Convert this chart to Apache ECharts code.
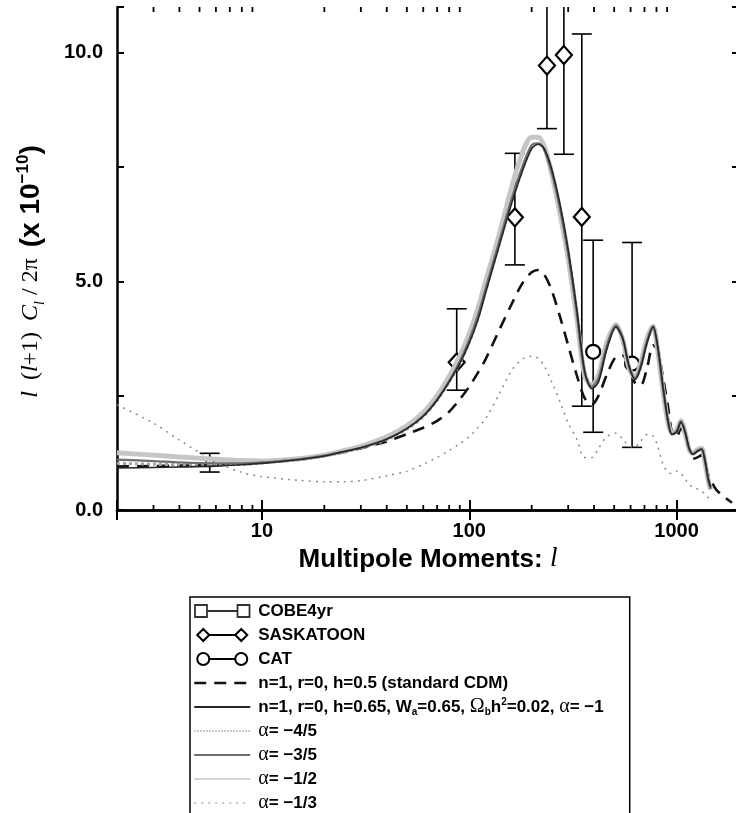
<!DOCTYPE html>
<html>
<head>
<meta charset="utf-8">
<script src="https://cdn.jsdelivr.net/npm/echarts@6/dist/echarts.min.js"></script>
<style>html,body{margin:0;padding:0;background:#fff}#main{width:736px;height:813px}</style>
</head>
<body>
<div id="main"></div>
<script>
// multipole grid used by the model curves
var ell = [2,3,4,6,8,10, 15,20,25,30, 40,50,60,70,80,90,100, 110,120,140,160,180,200,
    215,230,250,275,300, 330,360,390,420,460, 510,550,590,630,670, 720,770,810,860,910,
    950,1000,1050,1100,1150, 1200,1260,1320,1370,1420,1460];
// standard CDM runs a bit further to the right
var ellCdm = ell.concat([1550,1650,1750,1850]);

var cdm = [0.95,0.96,0.97,0.99,1.01,1.04, 1.1,1.18,1.27,1.35, 1.5,1.66,1.8,1.95,2.15,2.42,2.7,
    3.0,3.3,3.95,4.5,4.95,5.2, 5.25,5.15,4.8,4.2,3.6, 2.95,2.45,2.3,2.5,2.95,
    3.35,3.38,3.1,2.78,2.72, 3.1,3.6,3.5,2.9,2.25, 1.7,1.6,1.78,1.65,1.3,
    1.12,1.15,1.2,1.0,0.78,0.65, 0.45,0.33,0.24,0.16];
var alphaM1 = [0.92,0.93,0.94,0.96,0.99,1.02, 1.1,1.18,1.28,1.36, 1.55,1.78,2.05,2.4,2.8,3.2,3.65,
    4.15,4.75,5.8,6.7,7.4,7.9, 8.0,7.9,7.45,6.65,5.7, 4.4,3.05,2.65,2.8,3.5,
    4.0,3.75,3.15,2.85,3.1, 3.65,4.0,3.6,2.7,1.95, 1.65,1.7,1.92,1.7,1.35,
    1.22,1.28,1.33,1.1,0.7,0.5];
var alphaM45 = [1.02,1.0,0.99,0.99,1.0,1.03, 1.1,1.18,1.27,1.35, 1.54,1.77,2.04,2.4,2.8,3.2,3.67,
    4.2,4.8,5.85,6.75,7.45,7.95, 8.0,7.9,7.4,6.6,5.65, 4.35,3.05,2.68,2.85,3.55,
    4.02,3.75,3.15,2.88,3.12, 3.68,4.0,3.58,2.68,1.95, 1.67,1.72,1.93,1.7,1.35,
    1.23,1.3,1.33,1.08,0.68,0.48];
var alphaM35 = [1.1,1.07,1.04,1.02,1.02,1.04, 1.11,1.19,1.28,1.36, 1.55,1.78,2.06,2.42,2.82,3.25,3.72,
    4.25,4.85,5.9,6.8,7.5,7.98, 8.02,7.88,7.38,6.55,5.6, 4.3,3.0,2.7,2.88,3.58,
    4.03,3.75,3.12,2.88,3.15, 3.7,4.02,3.55,2.65,1.92, 1.66,1.72,1.94,1.7,1.33,
    1.22,1.3,1.34,1.06,0.66,0.46];
var alphaM12 = [1.25,1.2,1.16,1.11,1.08,1.07, 1.12,1.2,1.3,1.39, 1.6,1.84,2.13,2.5,2.92,3.36,3.85,
    4.4,5.0,6.05,7.05,7.8,8.15, 8.15,7.95,7.35,6.45,5.5, 4.2,2.95,2.72,2.95,3.65,
    4.05,3.72,3.1,2.9,3.2, 3.75,4.02,3.5,2.6,1.9, 1.68,1.75,1.95,1.68,1.32,
    1.24,1.32,1.35,1.05,0.65,0.45];
var alphaM13 = [2.3,1.9,1.53,1.05,0.82,0.73, 0.65,0.62,0.62,0.64, 0.75,0.85,1.0,1.15,1.3,1.45,1.6,
    1.8,2.0,2.55,3.05,3.3,3.36, 3.32,3.15,2.8,2.35,1.9, 1.55,1.15,1.15,1.35,1.6,
    1.68,1.55,1.4,1.38,1.5, 1.65,1.62,1.4,1.0,0.82, 0.8,0.85,0.8,0.68,0.55,
    0.5,0.46,0.42,0.34,0.27,0.22];

// data points: multipole, value, lower and upper end of the error bar
var cobeL = [5.6], cobeV = [1.04], cobeLo = [0.83], cobeHi = [1.24];
var sasL = [87,166,237,286,349], sasV = [3.23,6.4,9.72,9.95,6.41];
var sasLo = [2.62,5.36,8.34,7.78,2.27], sasHi = [4.4,7.8,12.5,13,10.41];
var catL = [396,610], catV = [3.46,3.2], catLo = [1.7,1.37], catHi = [5.9,5.85];

var xTickLabels = [10,100,1000];
var yTickLabels = [0,5,10];
var minorTicks = [3,4,5,6,7,8,9,20,30,40,50,60,70,80,90,200,300,400,500,600,700,800,900];

var names = {
    cdm: 'n=1, r=0, h=0.5 (standard CDM)',
    a1: 'n=1, r=0, h=0.65, Wa=0.65, Obh2=0.02, alpha=-1',
    a45: 'alpha=-4/5',
    a35: 'alpha=-3/5',
    a12: 'alpha=-1/2',
    a13: 'alpha=-1/3'
};
var labels = {};
labels['COBE4yr'] = 'COBE4yr';
labels['SASKATOON'] = 'SASKATOON';
labels['CAT'] = 'CAT';
labels[names.cdm] = names.cdm;
labels[names.a1] = 'n=1, r=0, h=0.65, W{sub|a}=0.65, {g|Ω}{sub|b}h{sup|2}=0.02, {g|α}= \u22121';
labels[names.a45] = '{g|α}= \u22124/5';
labels[names.a35] = '{g|α}= \u22123/5';
labels[names.a12] = '{g|α}= \u22121/2';
labels[names.a13] = '{g|α}= \u22121/3';

function pairs(xs, ys) {
    return xs.map(function (x, i) { return [x, ys[i]]; });
}
function bars(xs, lo, hi) {
    return xs.map(function (x, i) { return [x, lo[i], hi[i]]; });
}

function renderErr(params, api) {
    var top = api.coord([api.value(0), api.value(2)]);
    var bot = api.coord([api.value(0), api.value(1)]);
    var w = 10;
    var st = {stroke: '#000', lineWidth: 1.6};
    return {
        type: 'group',
        children: [
            {type: 'line', shape: {x1: top[0], y1: top[1], x2: bot[0], y2: bot[1]}, style: st},
            {type: 'line', shape: {x1: top[0] - w, y1: top[1], x2: top[0] + w, y2: top[1]}, style: st},
            {type: 'line', shape: {x1: bot[0] - w, y1: bot[1], x2: bot[0] + w, y2: bot[1]}, style: st}
        ]
    };
}

function renderMinor(params, api) {
    var b = api.coord([api.value(0), 0]);
    var t = api.coord([api.value(0), 11]);
    var st = {stroke: '#000', lineWidth: 1.8};
    return {
        type: 'group',
        children: [
            {type: 'line', shape: {x1: b[0], y1: b[1], x2: b[0], y2: b[1] - 5}, style: st},
            {type: 'line', shape: {x1: t[0], y1: t[1], x2: t[0], y2: t[1] + 5}, style: st}
        ]
    };
}

var myChart = echarts.init(document.getElementById('main'));

var sans = '"Liberation Sans", Arial, sans-serif';
var serif = '"Liberation Serif", "Times New Roman", serif';
var axisLine = {show: true, lineStyle: {color: '#000', width: 2.5}};

function curve(name, xs, ys, color, width, type, z) {
    return {
        name: name, type: 'line', data: pairs(xs, ys), smooth: 0.3,
        symbol: 'none', z: z, silent: true,
        lineStyle: {color: color, width: width, type: type},
        itemStyle: {color: color}
    };
}

var option = {
    animation: false,
    backgroundColor: '#fff',
    grid: {left: 117, right: -3, top: 7, bottom: 303, outerBoundsMode: 'none'},
    xAxis: [{
        type: 'log', logBase: 10, min: 2, max: 2000, position: 'bottom',
        axisLine: axisLine,
        axisTick: {inside: true, length: 10, lineStyle: {color: '#000', width: 2}},
        splitLine: {show: false},
        axisLabel: {
            color: '#000', fontFamily: sans, fontWeight: 'bold', fontSize: 20, margin: 11,
            formatter: function (v) {
                var r = Math.round(v);
                return xTickLabels.indexOf(r) >= 0 ? String(r) : '';
            }
        },
        name: '{b|Multipole Moments: }{it|l}',
        nameLocation: 'middle', nameGap: 28,
        nameTextStyle: {
            padding: [0, 0, 0, 0],
            rich: {
                b: {fontFamily: sans, fontWeight: 'bold', fontSize: 26, color: '#000'},
                it: {fontFamily: serif, fontStyle: 'italic', fontSize: 27, color: '#000'}
            }
        }
    }, {
        type: 'log', logBase: 10, min: 2, max: 2000, position: 'top',
        axisLine: axisLine,
        axisTick: {inside: true, length: 10, lineStyle: {color: '#000', width: 2}},
        splitLine: {show: false},
        axisLabel: {show: false}
    }],
    yAxis: [{
        type: 'value', min: 0, max: 11, interval: 2.5, position: 'left',
        axisLine: axisLine,
        axisTick: {inside: true, length: 7, lineStyle: {color: '#000', width: 2}},
        splitLine: {show: false},
        axisLabel: {
            color: '#000', fontFamily: sans, fontWeight: 'bold', fontSize: 20, margin: 14,
            formatter: function (v) {
                return yTickLabels.indexOf(v) >= 0 ? v.toFixed(1) : '';
            }
        },
        // trailing spacer nudges the rotated title down to where the original sits
        name: '{it|l}{sp| }{rm|(}{it|l}{rm|+1)}{sp| }{it|C}{sub|l}{rm| / 2π}{sp| }{b|(x 10}{sup|\u221210}{b|)}{tail| }',
        nameLocation: 'middle', nameGap: 70,
        nameTextStyle: {
            rich: {
                it: {fontFamily: serif, fontStyle: 'italic', fontSize: 24, color: '#000', lineHeight: 32},
                rm: {fontFamily: serif, fontSize: 24, color: '#000', lineHeight: 32},
                sp: {width: 11, lineHeight: 32},
                tail: {width: 26, lineHeight: 32},
                sub: {fontFamily: serif, fontStyle: 'italic', fontSize: 14, color: '#000', verticalAlign: 'bottom', lineHeight: 32},
                b: {fontFamily: sans, fontWeight: 'bold', fontSize: 28, color: '#000', lineHeight: 32},
                sup: {fontFamily: sans, fontWeight: 'bold', fontSize: 17, color: '#000', verticalAlign: 'top', lineHeight: 32}
            }
        }
    }, {
        type: 'value', min: 0, max: 11, interval: 2.5, position: 'right',
        axisLine: axisLine,
        axisTick: {inside: true, length: 7, lineStyle: {color: '#000', width: 2}},
        splitLine: {show: false},
        axisLabel: {show: false}
    }],
    legend: {
        orient: 'vertical', left: 190, top: 597, height: 320,
        itemWidth: 56, itemHeight: 12, itemGap: 4,
        padding: [4, 26, 6, 3],
        borderColor: '#000', borderWidth: 1.5,
        selectedMode: false,
        formatter: function (name) { return labels[name] || name; },
        textStyle: {
            fontFamily: sans, fontWeight: 'bold', fontSize: 17, color: '#000', lineHeight: 20,
            padding: [0, 0, 0, 3],
            rich: {
                g: {fontFamily: serif, fontWeight: 'normal', fontSize: 20, lineHeight: 20},
                sub: {fontSize: 10, verticalAlign: 'bottom', lineHeight: 20},
                sup: {fontSize: 10, verticalAlign: 'top', lineHeight: 20}
            }
        },
        data: [
            {name: 'COBE4yr', icon: 'path://M0,0h11v11h-11zM11,5.5h28M39,0h11v11h-11z',
                itemStyle: {color: '#fff', borderColor: '#000', borderWidth: 1.8}},
            {name: 'SASKATOON', icon: 'path://M0,6L6,0L12,6L6,12ZM12,6h26M38,6L44,0L50,6L44,12Z',
                itemStyle: {color: '#fff', borderColor: '#000', borderWidth: 2}},
            {name: 'CAT', icon: 'path://M0,6a6,6 0 1,0 12,0a6,6 0 1,0 -12,0ZM12,6h26M38,6a6,6 0 1,0 12,0a6,6 0 1,0 -12,0Z',
                itemStyle: {color: '#fff', borderColor: '#000', borderWidth: 2}},
            {name: names.cdm, itemStyle: {opacity: 0}, lineStyle: {width: 2.5}},
            {name: names.a1, itemStyle: {opacity: 0}, lineStyle: {width: 2.2}},
            {name: names.a45, itemStyle: {opacity: 0}, lineStyle: {width: 1.5}},
            {name: names.a35, itemStyle: {opacity: 0}, lineStyle: {width: 2}},
            {name: names.a12, itemStyle: {opacity: 0}, lineStyle: {width: 1.5}},
            {name: names.a13, itemStyle: {opacity: 0}, lineStyle: {width: 1.2}}
        ]
    },
    series: [
        {name: 'cobeErr', type: 'custom', renderItem: renderErr, data: bars(cobeL, cobeLo, cobeHi), clip: true, silent: true, z: 2},
        {name: 'sasErr', type: 'custom', renderItem: renderErr, data: bars(sasL, sasLo, sasHi), clip: true, silent: true, z: 2},
        {name: 'catErr', type: 'custom', renderItem: renderErr, data: bars(catL, catLo, catHi), clip: true, silent: true, z: 2},
        {name: 'COBE4yr', type: 'scatter', symbol: 'rect', symbolSize: 7, data: pairs(cobeL, cobeV), z: 3,
            itemStyle: {color: '#fff', borderColor: '#000', borderWidth: 1.5}},
        {name: 'SASKATOON', type: 'scatter', symbol: 'diamond', symbolSize: [16, 18], data: pairs(sasL, sasV), z: 3,
            itemStyle: {color: '#fff', borderColor: '#000', borderWidth: 2.2, opacity: 1}},
        {name: 'CAT', type: 'scatter', symbol: 'circle', symbolSize: 14, data: pairs(catL, catV), z: 3,
            itemStyle: {color: '#fff', borderColor: '#000', borderWidth: 2.2, opacity: 1}},
        curve(names.a13, ell, alphaM13, '#8c8c8c', 1.5, [2, 5], 4),
        curve(names.cdm, ellCdm, cdm, '#111', 2.6, [12, 8], 4),
        curve(names.a12, ell, alphaM12, '#c6c6c6', 5, 'solid', 5),
        curve(names.a45, ell, alphaM45, '#a3a3a3', 3, 'dotted', 5),
        curve(names.a35, ell, alphaM35, '#6e6e6e', 2.2, 'solid', 5),
        curve(names.a1, ell, alphaM1, '#262626', 1.6, 'solid', 5),
        {name: 'minorTicks', type: 'custom', renderItem: renderMinor, silent: true, z: 6,
            data: minorTicks.map(function (v) { return [v, 0]; })}
    ]
};

myChart.setOption(option);

window.onresize = function () {
    myChart.resize();
};
</script>
</body>
</html>
